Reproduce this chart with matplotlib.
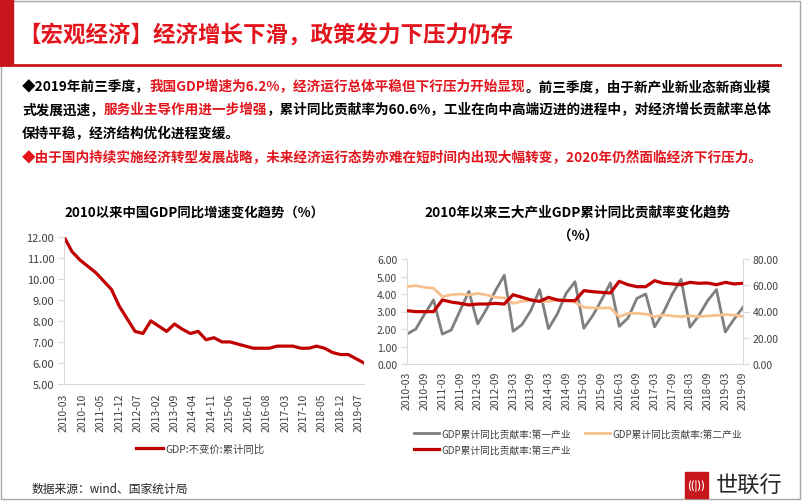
import matplotlib
matplotlib.use('Agg')
import matplotlib.pyplot as plt
from matplotlib.patches import Rectangle
from matplotlib.lines import Line2D
import pandas as pd

plt.rcParams['font.family'] = ['Noto Sans CJK SC', 'DejaVu Sans']

W, H = 802, 502
RED = '#C00000'
TXT_RED = '#E3141C'
GRAY = '#7F7F7F'
ORANGE = '#F9C08E'
AXC = '#D9D9D9'

# ---------------------------------------------------------------- data
quarters = [p.strftime('%Y-%m') for p in pd.period_range('2010-03', '2019-09', freq='3M')]

# GDP:不变价:累计同比 (%)
gdp_growth = [12.0, 11.3, 10.9, 10.6, 10.3, 9.9, 9.5, 8.7, 8.1, 7.5, 7.4, 8.0, 7.75,
              7.5, 7.85, 7.6, 7.4, 7.5, 7.1, 7.2, 7.0, 7.0, 6.9, 6.8, 6.7, 6.7, 6.7,
              6.8, 6.8, 6.8, 6.7, 6.7, 6.8, 6.7, 6.5, 6.4, 6.4, 6.2, 6.0]
left_xticks = ['2010-03', '2010-10', '2011-05', '2011-12', '2012-07', '2013-02',
               '2013-09', '2014-04', '2014-11', '2015-06', '2016-01', '2016-08',
               '2017-03', '2017-10', '2018-05', '2018-12', '2019-07']

# GDP累计同比贡献率 (%), primary on left axis, others on right axis
primary = [1.71, 2.0, 2.86, 3.66, 1.71, 1.94, 3.05, 4.15, 2.29, 3.14, 4.19, 5.07,
           1.87, 2.25, 3.05, 4.25, 2.02, 2.86, 4.04, 4.7, 2.04, 2.76, 3.66, 4.63,
           2.15, 2.63, 3.75, 4.0, 2.12, 2.95, 4.0, 4.84, 2.1, 2.76, 3.62, 4.25,
           1.83, 2.57, 3.24]
secondary = [58.9, 59.7, 58.4, 57.7, 51.3, 52.8, 53.3, 52.6, 53.8, 52.6, 50.8, 50.3,
             46.2, 47.7, 48.8, 47.7, 47.7, 48.8, 48.8, 47.0, 43.2, 42.7, 42.7, 42.7,
             36.0, 38.6, 38.6, 38.1, 36.1, 37.3, 36.6, 36.1, 36.8, 36.1, 36.6, 37.1,
             37.6, 37.3, 36.3]
tertiary = [40.6, 39.9, 39.9, 39.9, 48.8, 47.2, 46.2, 45.0, 45.7, 45.7, 46.2, 45.7,
            52.8, 50.8, 48.8, 47.7, 50.8, 48.8, 48.3, 48.3, 55.9, 55.1, 54.6, 54.1,
            63.0, 60.4, 58.9, 58.9, 63.5, 61.5, 61.0, 60.4, 62.2, 61.5, 61.7, 60.4,
            62.2, 61.0, 61.5]
right_xticks = quarters[::2]

legend_left = 'GDP:不变价:累计同比'
legend_right = ['GDP累计同比贡献率:第一产业', 'GDP累计同比贡献率:第二产业',
                'GDP累计同比贡献率:第三产业']


def month_idx(s):
    y, m = s.split('-')
    return (int(y) - 2010) * 12 + int(m) - 3


def fx(px):
    return px / W


def fy(py):
    return 1 - py / H


fig = plt.figure(figsize=(W / 100, H / 100), dpi=100)
fig.patch.set_facecolor('white')

# ------------------------------------------------------- slide header
fig.patches.append(Rectangle((0, fy(66)), fx(13), 66 / H, transform=fig.transFigure,
                             color='#C8161D', zorder=1))
fig.add_artist(Line2D([fx(0), fx(780)], [fy(66), fy(66)], color='#C8161D', lw=2))
fig.add_artist(Rectangle((fx(1), fy(500)), fx(799), 498 / H, transform=fig.transFigure,
                         fill=False, ec='#A6A6A6', lw=1))
fig.text(fx(18), fy(36), '【宏观经济】经济增长下滑，政策发力下压力仍存', color=TXT_RED,
         fontsize=16.2, fontweight='bold', va='center', ha='left')

renderer = fig.canvas.get_renderer()


def draw_runs(x, y, runs, size=9.8):
    for s, c in runs:
        t = fig.text(fx(x), fy(y), s, color=c, fontsize=size, fontweight='bold',
                     va='center', ha='left')
        x = t.get_window_extent(renderer).x1


draw_runs(22, 87, [('◆2019年前三季度，', 'black'),
                   ('我国GDP增速为6.2%，经济运行总体平稳但下行压力开始显现', TXT_RED),
                   ('。前三季度，由于新产业新业态新商业模', 'black')])
draw_runs(22, 110, [('式发展迅速，', 'black'), ('服务业主导作用进一步增强', TXT_RED),
                    ('，累计同比贡献率为60.6%，工业在向中高端迈进的进程中，对经济增长贡献率总体', 'black')])
draw_runs(22, 134, [('保持平稳，经济结构优化进程变缓。', 'black')])
draw_runs(22, 158, [('◆由于国内持续实施经济转型发展战略，未来经济运行态势亦难在短时间内出现大幅转变，2020年仍然面临经济下行压力。', TXT_RED)])

# --------------------------------------------------------- left chart
ax1 = fig.add_axes([fx(64), fy(385), fx(364 - 64), (385 - 237.7) / H])
x_left = [month_idx(q) for q in quarters]
ax1.plot(x_left, gdp_growth, color=RED, lw=2.3, solid_joinstyle='round', label=legend_left)
ax1.set_xlim(0, month_idx('2019-09'))
ax1.set_ylim(5, 12)
ax1.set_yticks(range(5, 13))
ax1.set_yticklabels([f'{v:.2f}' for v in range(5, 13)])
ax1.set_xticks([month_idx(t) for t in left_xticks])
ax1.set_xticklabels(left_xticks, rotation=90)
for s in ['top', 'right']:
    ax1.spines[s].set_visible(False)
for s in ['left', 'bottom']:
    ax1.spines[s].set_color(AXC)
ax1.tick_params(axis='y', length=4, color=AXC, labelsize=8, labelcolor='#404040', pad=3)
ax1.tick_params(axis='x', length=0, labelsize=7.5, labelcolor='#404040', pad=6)
ax1.legend(loc='center', bbox_to_anchor=(fx(200), fy(450)), bbox_transform=fig.transFigure,
           frameon=False, fontsize=7.5, handlelength=2.6, handletextpad=0.2,
           labelcolor='#404040')
fig.text(fx(194), fy(213), '2010以来中国GDP同比增速变化趋势（%）', fontsize=9.6,
         fontweight='bold', ha='center', va='center', color='black')

# -------------------------------------------------------- right chart
ax2 = fig.add_axes([fx(407), fy(365), fx(743 - 407), 105 / H])
ax3 = ax2.twinx()
x_right = list(range(len(quarters)))
h1, = ax2.plot(x_right, primary, color=GRAY, lw=2.0, label=legend_right[0])
h2, = ax3.plot(x_right, secondary, color=ORANGE, lw=2.0, label=legend_right[1])
h3, = ax3.plot(x_right, tertiary, color=RED, lw=2.3, label=legend_right[2])
ax2.set_xlim(0, len(quarters) - 1)
ax2.set_ylim(0, 6)
ax3.set_ylim(0, 80)
ax2.set_yticks(range(0, 7))
ax2.set_yticklabels([f'{v:.2f}' for v in range(0, 7)])
ax3.set_yticks(range(0, 81, 20))
ax3.set_yticklabels([f'{v:.2f}' for v in range(0, 81, 20)])
ax2.set_xticks([quarters.index(t) for t in right_xticks])
ax2.set_xticklabels(right_xticks, rotation=90)
for a in (ax2, ax3):
    a.spines['top'].set_visible(False)
    for s in ['left', 'right', 'bottom']:
        a.spines[s].set_color(AXC)
ax2.spines['right'].set_visible(False)
ax3.spines['left'].set_visible(False)
ax3.spines['bottom'].set_visible(False)
ax2.tick_params(axis='y', length=4, color=AXC, labelsize=7.5, labelcolor='#404040', pad=3)
ax3.tick_params(axis='y', length=4, color=AXC, labelsize=7.5, labelcolor='#404040', pad=3)
ax2.tick_params(axis='x', length=0, labelsize=7.5, labelcolor='#404040', pad=5)
ax3.legend([h1, h3, h2], [legend_right[0], legend_right[2], legend_right[1]],
           loc='upper left', bbox_to_anchor=(fx(405), fy(421)), bbox_transform=fig.transFigure,
           ncol=2, frameon=False, fontsize=7, handlelength=2.6, handletextpad=0.2,
           columnspacing=1.5, labelspacing=0.6, labelcolor='#404040')
fig.text(fx(578), fy(213), '2010年以来三大产业GDP累计同比贡献率变化趋势', fontsize=9.8,
         fontweight='bold', ha='center', va='center', color='black')
fig.text(fx(578), fy(237), '（%）', fontsize=9.8, fontweight='bold', ha='center',
         va='center', color='black')

# ------------------------------------------------------ footer
fig.text(fx(32), fy(489), '数据来源：wind、国家统计局', fontsize=8.5, color='#262626',
         ha='left', va='center')
fig.add_artist(Rectangle((fx(685), fy(499)), fx(23), 26 / H, transform=fig.transFigure,
                         color='#C8161D'))
fig.text(fx(696.5), fy(486), '((|))', fontsize=7, color='white', ha='center', va='center',
         fontweight='bold')
fig.text(fx(716), fy(486), '世联行', fontsize=16, color='#262626', ha='left', va='center')

fig.savefig('out.png', dpi=100, facecolor='white')
